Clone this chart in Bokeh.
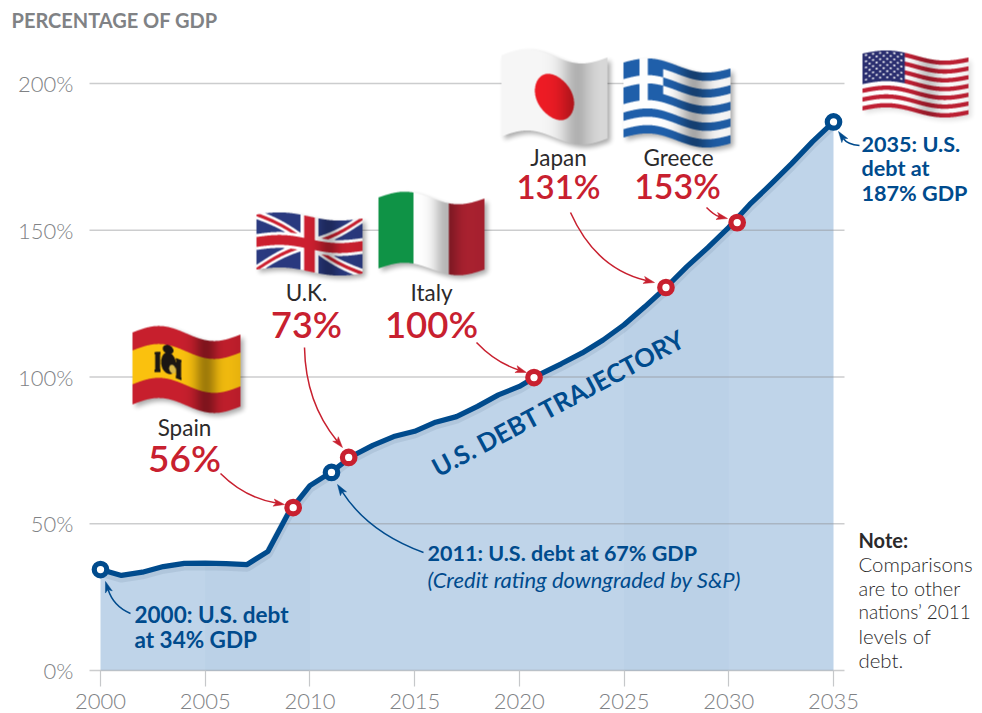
import numpy as np
from bokeh.plotting import figure
from bokeh.models import FixedTicker
from bokeh.core.properties import value
from bokeh.embed import file_html
from bokeh.resources import INLINE

# ---------- data ----------
years = list(range(2000, 2036))
debt = [34.4, 32.4, 33.5, 35.4, 36.5, 36.6, 36.4, 36.1, 40.6, 54.0,
        63.0, 67.5, 73.0, 76.7, 79.7, 81.5, 84.6, 86.5, 90.0, 93.9,
        96.8, 101.0, 104.5, 108.2, 112.6, 117.8, 124.0, 130.5, 137.6, 144.1,
        151.0, 158.8, 165.6, 172.7, 180.2, 186.9]
red_x = [2009.2, 2011.85, 2020.7, 2027.0, 2030.4]
red_y = [55.5, 72.6, 99.8, 130.5, 152.6]
blue_x = [2000, 2011.03, 2035]
blue_y = [34.4, 67.5, 186.9]
x_ticks = [2000, 2005, 2010, 2015, 2020, 2025, 2030, 2035]
y_ticks = [0, 50, 100, 150, 200]
y_tick_labels = ["0%", "50%", "100%", "150%", "200%"]
countries = ["Spain", "U.K.", "Italy", "Japan", "Greece"]
shares = ["56%", "73%", "100%", "131%", "153%"]
note_lines = ["Comparisons", "are to other", "nations\u2019 2011", "levels of", "debt."]

# ---------- layout helpers (page pixels to data) ----------
PXY = 20.943
PPC = 2.935
def fx(px): return 2000 + (np.asarray(px, float) - 100) / PXY
def fy(py): return (670 - np.asarray(py, float)) / PPC

W, H = 982, 713
BLUE = "#004b8d"
RED = "#c8202f"
GREY = "#808285"
INK = "#2b2a2b"
FONT = "Lato"

p = figure(width=W, height=H, output_backend="svg", toolbar_location=None,
           x_range=(float(fx(0)), float(fx(W))),
           y_range=(float(fy(H)), float(fy(0))),
           min_border=0, outline_line_color=None)
p.xgrid.visible = False
p.ygrid.visible = False

# axes, fixed in place inside the full-page frame
xa = p.xaxis[0]
xa.fixed_location = 0
xa.ticker = FixedTicker(ticks=x_ticks)
xa.bounds = (2000, 2035)
xa.axis_line_color = None
xa.minor_tick_line_color = None
xa.major_tick_in = 0
xa.major_tick_out = 16
xa.major_tick_line_color = "#c6c8ca"
xa.major_tick_line_width = 1.2
xa.major_label_text_font = "Lato Light"
xa.major_label_text_font_size = "22px"
xa.major_label_text_color = GREY
xa.major_label_standoff = 7

ya = p.yaxis[0]
ya.fixed_location = float(fx(89))
ya.ticker = FixedTicker(ticks=y_ticks)
ya.major_label_overrides = dict(zip(y_ticks, y_tick_labels))
ya.axis_line_color = None
ya.minor_tick_line_color = None
ya.major_tick_line_color = None
ya.major_tick_in = 0
ya.major_tick_out = 0
ya.major_label_text_font = "Lato Light"
ya.major_label_text_font_size = "22px"
ya.major_label_text_color = GREY
ya.major_label_standoff = 16

# area with its faint five-year bands
p.varea(x=years, y1=[0] * len(years), y2=debt, fill_color="#bfd4e9")
for a, b in ((2005, 2010), (2025, 2030)):
    i, j = years.index(a), years.index(b) + 1
    p.varea(x=years[i:j], y1=[0] * (j - i), y2=debt[i:j], fill_color="#bbd1e7")

# grid lines
gx0, gx1 = float(fx(89)), float(fx(844))
p.segment(x0=[gx0] * len(y_ticks), x1=[gx1] * len(y_ticks), y0=y_ticks, y1=y_ticks,
          line_color="#8f9193", line_alpha=0.45, line_width=1.3)

# line
p.line(years, [v - 0.9 for v in debt], line_color="#33506e", line_alpha=0.10, line_width=9)
p.line(years, debt, line_color=BLUE, line_width=5.2, line_join="round")

# ---------- arrows ----------
def arrow(start, ctrl, end, color):
    sx, sy = start; cx, cy = ctrl; ex, ey = end
    dx, dy = ex - cx, ey - cy
    n = np.hypot(dx, dy); ux, uy = dx / n, dy / n
    L, Wd = 11.0, 3.6
    bx, by = ex - ux * L, ey - uy * L
    nx, ny = bx - ux * -2.5, by - uy * -2.5
    p.quadratic(x0=[float(fx(sx))], y0=[float(fy(sy))], x1=[float(fx(nx))], y1=[float(fy(ny))],
                cx=[float(fx(cx))], cy=[float(fy(cy))], line_color=color, line_width=1.5)
    xs = [ex, bx - uy * Wd, nx, bx + uy * Wd]
    ys = [ey, by + ux * Wd, ny, by - ux * Wd]
    p.patches(xs=[list(map(float, fx(xs)))], ys=[list(map(float, fy(ys)))],
              fill_color=color, line_color=color, line_width=0.5)

arrow((220, 473), (244, 497), (284, 504), RED)
arrow((304, 347), (305, 402), (342, 447), RED)
arrow((476, 342), (495, 362), (526, 372), RED)
arrow((570, 212), (595, 268), (654, 282), RED)
arrow((706, 207), (714, 215), (727, 218), RED)
arrow((130, 613), (113, 606), (105, 581), BLUE)
arrow((423, 552), (368, 532), (337, 484), BLUE)
arrow((859, 145), (847, 144), (838, 131), BLUE)

# markers
p.scatter(red_x, red_y, size=12.5, fill_color="white", line_color=RED, line_width=5.2)
p.scatter(blue_x, blue_y, size=12.5, fill_color="white", line_color=BLUE, line_width=5.2)

# ---------- flags as small images ----------
def hexrgb(h):
    return np.array([int(h[i:i + 2], 16) / 255 for i in (1, 3, 5)])

def fill(shape, h):
    return np.ones(shape + (3,)) * hexrgb(h)

def setc(img, mask, h):
    img[mask] = hexrgb(h)

def p_spain(T, V):
    im = fill(T.shape, "#c8202e")
    setc(im, (V > .25) & (V < .72), "#fbc20f")
    k = "#1c1714"
    setc(im, ((T - .335) / .07) ** 2 + ((V - .50) / .15) ** 2 < 1, k)
    setc(im, ((T - .33) / .05) ** 2 + ((V - .31) / .06) ** 2 < 1, k)
    setc(im, (T > .21) & (T < .255) & (V > .38) & (V < .62), k)
    setc(im, (T > .205) & (T < .26) & (V > .36) & (V < .39), k)
    setc(im, (T > .205) & (T < .26) & (V > .60) & (V < .64), k)
    setc(im, (T > .405) & (T < .45) & (V > .42) & (V < .66), k)
    setc(im, (T > .40) & (T < .455) & (V > .40) & (V < .43), k)
    setc(im, (T > .40) & (T < .455) & (V > .64) & (V < .68), k)
    setc(im, ((T - .37) / .03) ** 2 + ((V - .57) / .06) ** 2 < 1, "#d9b94a")
    return im

def p_italy(T, V):
    im = fill(T.shape, "#ffffff")
    setc(im, T < .33, "#109447")
    setc(im, T > .665, "#ad2231")
    return im

def p_japan(T, V):
    im = fill(T.shape, "#f7f7f7")
    setc(im, ((T - .5) / .185) ** 2 + ((V - .5) / .27) ** 2 < 1, "#ee1c25")
    return im

def p_greece(T, V):
    im = fill(T.shape, "#ffffff")
    setc(im, (np.floor(V * 9).astype(int) % 2 == 0), "#2060ab")
    c = (T < .37) & (V < 5 / 9)
    setc(im, c, "#2060ab")
    setc(im, c & (((T > .15) & (T < .226)) | ((V > .222) & (V < .333))), "#ffffff")
    return im

def p_us(T, V):
    im = fill(T.shape, "#ffffff")
    setc(im, (np.floor(V * 13).astype(int) % 2 == 0), "#c02034")
    c = (T < .4) & (V < 7 / 13)
    setc(im, c, "#2b2f70")
    for r in range(9):
        vc = (r + .75) / 10 * (7 / 13)
        n = 6 if r % 2 == 0 else 5
        for k in range(n):
            tc = (k + (.5 if r % 2 == 0 else 1.0)) / 6 * .4
            setc(im, ((T - tc) / .011) ** 2 + ((V - vc) / .016) ** 2 < 1, "#ffffff")
    return im

def p_uk(T, V):
    im = fill(T.shape, "#2a3a80")
    d1 = np.abs((T - .5) - (V - .5))
    d2 = np.abs((T - .5) + (V - .5))
    setc(im, (d1 < .085) | (d2 < .085), "#ffffff")
    q = ((T < .5) == (V < .5))
    setc(im, ((d1 < .032) & q) | ((d2 < .032) & ~q), "#cd2030")
    setc(im, (np.abs(T - .5) < .085) | (np.abs(V - .5) < .145), "#ffffff")
    setc(im, (np.abs(T - .5) < .05) | (np.abs(V - .5) < .09), "#cd2030")
    return im

def blur(a, r):
    k = np.ones(2 * r + 1) / (2 * r + 1)
    for _ in range(3):
        a = np.apply_along_axis(lambda m: np.convolve(m, k, mode="same"), 0, a)
        a = np.apply_along_axis(lambda m: np.convolve(m, k, mode="same"), 1, a)
    return a

def draw_flag(x0, x1, top, hgt, A, B, painter, dark_c, dark_d, dark_w, end=0.95, shadow_a=.34):
    pad, ss = 10, 3
    wd = x1 - x0
    ymin, ymax = top - A - 4, top + hgt + A + B + 4
    ox, oy = x0 - pad, int(np.floor(ymin)) - pad
    nx, ny = int(wd + 2 * pad), int(ymax - ymin + 2 * pad)
    X, Y = np.meshgrid(ox + (np.arange(nx * ss) + .5) / ss, oy + (np.arange(ny * ss) + .5) / ss)
    T = (X - x0) / wd
    off = -A * np.sin(2 * np.pi * T) + B * T
    V = (Y - top - off) / hgt
    inside = (T >= 0) & (T <= 1) & (V >= 0) & (V <= 1)
    rgb = painter(T, V)
    shade = 1 - dark_d * np.exp(-((T - dark_c) / dark_w) ** 2) - (1 - end) * np.clip(T - .8, 0, 1) / .2
    rgb = np.clip(rgb * shade[..., None], 0, 1)
    m = inside.astype(float)
    m1 = m.reshape(ny, ss, nx, ss).mean(axis=(1, 3))
    c1 = (rgb * m[..., None]).reshape(ny, ss, nx, ss, 3).mean(axis=(1, 3))
    shadow = np.roll(np.roll(m1, 3, axis=0), 3, axis=1)
    shadow = blur(shadow, 2) * shadow_a
    alpha = m1 + shadow * (1 - m1)
    col = np.where(alpha[..., None] > 0, c1 / np.maximum(alpha[..., None], 1e-6), 0)
    out = np.zeros((ny, nx, 4), dtype=np.uint8)
    out[..., :3] = np.clip(col * 255, 0, 255).astype(np.uint8)
    out[..., 3] = np.clip(alpha * 255, 0, 255).astype(np.uint8)
    out = out[::-1]
    img = out.view(np.uint32).reshape(ny, nx)
    p.image_rgba(image=[img], x=[float(fx(ox))], y=[float(fy(oy + ny))],
                 dw=[nx / PXY], dh=[ny / PPC], level="glyph")

draw_flag(132, 240, 332, 72, 7, 2, p_spain, .68, .36, .11, .92)
draw_flag(256, 362, 214, 55, 3, 4, p_uk, .68, .28, .10)
draw_flag(378, 484, 197, 71, 6, 1, p_italy, .64, .28, .12)
draw_flag(501, 607, 55, 81, 6.5, 2, p_japan, .72, .28, .16, .88)
draw_flag(623, 730, 62, 75, 5.5, 6, p_greece, .66, .34, .14)
draw_flag(862, 968, 53, 57, 4, 4, p_us, .62, .22, .12, .95, .12)

# ---------- texts (py is the vertical middle of the line) ----------
def txt(px, py, s, size, color, align="left", style="normal", font=FONT, angle=0.0):
    p.text(x=[float(fx(px))], y=[float(fy(py))], text=[s], text_color=color,
           text_font=value(font), text_font_size=f"{size}px", text_font_style=style,
           text_align=align, text_baseline="middle", angle=angle)

txt(11, 19, "PERCENTAGE OF GDP", 20, GREY, style="bold")

name_pos = [(184, 427), (306, 292), (431, 292), (558, 157), (678, 157)]
share_pos = [(184, 457), (306, 323), (431, 323), (558, 185), (677, 185)]
share_size = [37, 36, 36.5, 33, 34]
for (x, y), s in zip(name_pos, countries):
    txt(x, y, s, 22.5, INK, align="center")
for (x, y), s, z in zip(share_pos, shares, share_size):
    txt(x, y, s, z, RED, align="center", font="Lato Semibold")

txt(134, 614, "2000: U.S. debt", 22.5, BLUE, style="bold")
txt(134, 639, "at 34% GDP", 22.5, BLUE, style="bold")
txt(427, 552, "2011: U.S. debt at 67% GDP", 21.5, BLUE, style="bold")
txt(427, 579, "(Credit rating downgraded by S&P)", 22, BLUE, style="italic")
txt(861, 143, "2035: U.S.", 21.6, BLUE, style="bold")
txt(861, 167, "debt at", 21.6, BLUE, style="bold")
txt(861, 192, "187% GDP", 21.6, BLUE, style="bold")

txt(558, 402, "U.S. DEBT TRAJECTORY", 25.6, BLUE, align="center", style="bold",
    angle=float(np.radians(28)))

note_size = [20.4, 20, 19, 20.4, 20.4]
txt(858, 539, "Note:", 20, INK, style="bold")
for i, (s, z) in enumerate(zip(note_lines, note_size)):
    txt(858, 563 + i * 24, s, z, INK, font="Lato Light")

open("out.html", "w").write(file_html(p, INLINE))
